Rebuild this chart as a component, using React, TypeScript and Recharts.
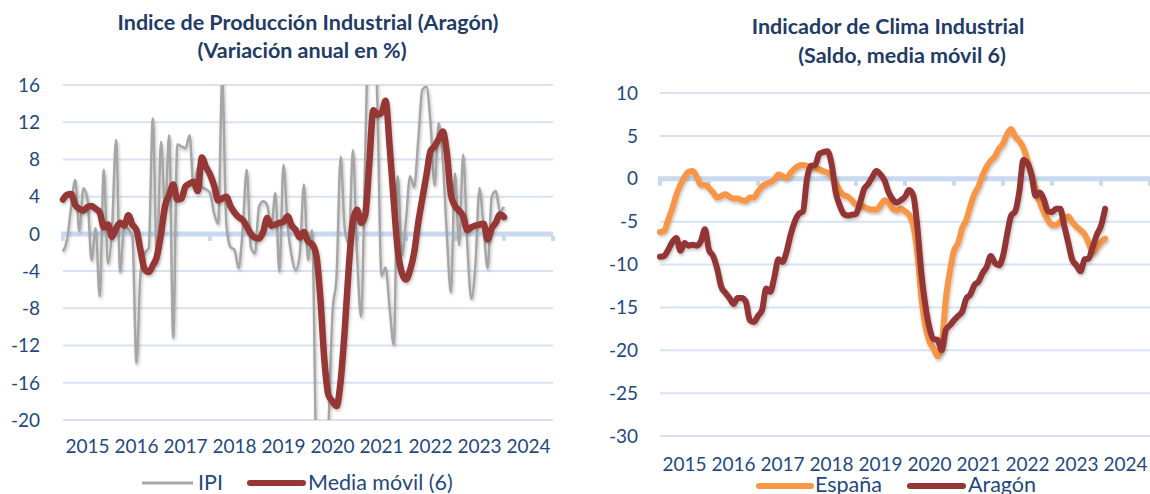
import { LineChart, Line, XAxis, YAxis, CartesianGrid, ReferenceLine } from "recharts"

// monthly values, Jan 2015 onward
const years = [2015, 2016, 2017, 2018, 2019, 2020, 2021, 2022, 2023, 2024]

const ipi = [
  -1.9, -0.6, 2.9, 5.8, 0.3, 4.9, 3.7, -2.8, 0.6, -6.7,
  6.9, -3.2, 0.4, 10.1, -4.1, 0.8, 0.5, -0.3, -13.9, -4.2,
  -2.1, -1.5, 12.4, -3.2, 9.9, 2.6, 10.6, -11.2, 9.6, 9.4,
  9.2, 10.6, 4.9, 7.1, 5.1, 4.8, 4.4, 2.2, 1.1, 16.5,
  1.1, -1.4, -1.7, -3.7, 0.4, 6.9, -1.4, -2.1, 2.9, 3.5,
  3.1, 0.6, 4.4, -4.1, 7.4, 1.0, -2.4, -3.9, -2.1, 5.3,
  -2.8, 0.4, -24, -36, -30, -21, -8.5, -4.5, 8.3, 0.5,
  -1.0, 9.0, -2.0, -8.9, 8, 25, 26, 14, -4.5, -3.6,
  -8.0, -11.9, 6.2, -2.3, 1.5, 6.2, 5.0, 10.0, 15.5, 15.8,
  12.0, 5.2, 11.9, 8.0, 0.0, -6.3, 6.5, -1.2, 8.5, -1.0,
  -7.0, -3.3, 4.9, 0.6, -3.7, 4.0, 4.6, 2.4, 2.9,
]

const mediaMovil = [
  3.7, 4.2, 4.3, 3.1, 2.7, 2.5, 2.9, 3.0, 2.7, 2.3,
  0.7, 1.0, -0.3, 0.6, 1.2, 0.9, 2.0, 1.0, 0.4, -1.8,
  -3.8, -4.1, -3.4, -2.4, 0.0, 3.0, 4.2, 5.3, 3.7, 3.8,
  5.1, 5.4, 5.6, 4.6, 8.2, 7.2, 6.4, 5.2, 3.6, 3.8,
  4.0, 3.0, 2.3, 1.8, 1.5, 0.8, 0.0, -0.4, -0.5, 0.2,
  1.7, 0.9, 1.0, 1.2, 1.3, 1.9, 0.9, 0.4, -0.4, 0.2,
  -0.8, -1.1, -2.2, -6.7, -13.5, -17.3, -18.0, -18.5, -15.8, -10.3,
  -3.5, 1.4, 2.6, 1.2, 2.0, 7.5, 13.3, 12.8, 13.0, 14.3,
  9.4, 3.5, -1.8, -4.2, -4.9, -3.9, -2.0, 1.2, 3.8, 6.3,
  8.9, 9.4, 10.2, 11.0, 8.7, 4.2, 3.0, 2.5, 1.9, 0.4,
  0.7, 0.9, 1.0, 1.1, -0.6, 0.6, 1.2, 2.1, 1.8,
]

const espana = [
  -6.2, -6.1, -4.8, -3.5, -1.9, -0.7, 0.2, 0.8, 0.9, 0.2,
  -0.7, -0.7, -1.1, -1.6, -2.2, -2.0, -1.8, -2.1, -2.3, -2.3,
  -2.5, -2.6, -2.2, -2.2, -1.5, -0.9, -0.6, -0.4, -0.1, 0.5,
  0.3, 0.1, 0.7, 1.2, 1.5, 1.6, 1.5, 1.4, 1.3, 1.1,
  0.9, 0.7, 0.3, -0.4, -1.4, -1.9, -2.1, -2.5, -3.0, -3.0,
  -3.3, -3.5, -3.6, -3.6, -3.1, -2.5, -2.8, -3.5, -3.7, -3.5,
  -3.8, -4.2, -5.4, -8.6, -13.8, -17.2, -19.0, -19.8, -20.7, -19.2,
  -14.0, -10.8, -8.4, -7.5, -5.8, -4.8, -3.2, -1.8, -0.9, 0.4,
  1.4, 2.1, 2.6, 3.5, 4.1, 5.2, 5.8, 4.9, 4.4, 3.6,
  2.1, 0.4, -1.2, -2.7, -3.9, -4.8, -5.4, -5.4, -5.0, -4.6,
  -4.4, -5.1, -5.6, -6.0, -6.5, -7.5, -8.6, -8.0, -7.4, -7.0,
]

const aragon = [
  -9.1, -9.0, -8.3, -7.4, -6.9, -8.4, -7.5, -7.8, -7.7, -7.8,
  -7.3, -5.9, -8.3, -9.0, -10.5, -12.6, -13.3, -13.9, -14.6, -13.9,
  -13.9, -14.3, -16.5, -16.7, -16.0, -15.3, -12.8, -13.2, -11.5, -9.4,
  -9.7, -8.5, -6.5, -5.0, -4.1, -3.8, 0.0, 1.5, 1.6, 2.9,
  3.1, 3.2, 1.8, -1.5, -3.1, -4.1, -4.3, -4.2, -4.1, -2.8,
  -1.2, -0.6, 0.2, 0.9, 0.5, -0.2, -1.6, -2.4, -2.8, -2.5,
  -2.1, -1.3, -1.9, -5.5, -11.0, -14.8, -17.4, -18.7, -18.8, -20.0,
  -17.6, -17.1, -16.5, -16.0, -15.5, -14.0, -13.5, -12.4, -12.0, -11.0,
  -10.3, -9.0, -9.8, -10.1, -9.0, -6.5, -4.3, -3.8, -1.5, 2.2,
  1.8, 0.4, -2.0, -1.6, -2.4, -3.8, -3.9, -3.5, -3.5, -5.5,
  -7.5, -9.5, -10.1, -10.8, -9.4, -9.3, -7.9, -6.5, -5.5, -3.5,
]

const ipiTicks = [-20, -16, -12, -8, -4, 0, 4, 8, 12, 16]
const climaTicks = [-30, -25, -20, -15, -10, -5, 0, 5, 10]

const ipiData = ipi.map((v, i) => ({ m: i, ipi: v, media: mediaMovil[i] }))
const climaData = espana.map((v, i) => ({ m: i, espana: v, aragon: aragon[i] }))

const yearTicks = years.map((_, i) => i * 12 + 6)
const yearLabel = (v: number) => String(years[Math.floor(v / 12)])

const FONT = "Lato, 'Open Sans', sans-serif"
const NAVY = "#1F497D"
const TITLE = "#1F3B66"
const GRID = "#D7E3F3"
const BAND = "#C9DAF0"

// the value axis is drawn at 0 as a thick band with year tick marks
const ZeroAxis = (props: any) => {
  const { x1, x2, y1 } = props
  const step = (x2 - x1) / years.length
  return (
    <g>
      <line x1={x1 - 2} x2={x2} y1={y1} y2={y1} stroke={BAND} strokeWidth={5} />
      {years.concat([0]).map((_, i) => (
        <rect key={i} x={x1 + i * step - 2} y={y1 + 2} width={4} height={5} fill={BAND} />
      ))}
    </g>
  )
}

const tickStyle = { fill: NAVY, fontSize: 19, fontFamily: FONT }

export default function App() {
  return (
    <div style={{ position: "absolute", left: 0, top: 0, width: 1150, height: 494, background: "#fff", overflow: "hidden" }}>
      <svg width={0} height={0} style={{ position: "absolute" }}>
        <defs>
          <filter id="soft" x="-5%" y="-5%" width="110%" height="115%">
            <feDropShadow dx={1} dy={2} stdDeviation={1.5} floodColor="#000" floodOpacity={0.25} />
          </filter>
        </defs>
      </svg>

      <div style={{ position: "absolute", left: 0, top: 0 }}>
        <LineChart width={575} height={494} data={ipiData} margin={{ top: 85, right: 22, bottom: 44, left: 0 }}>
          <CartesianGrid vertical={false} stroke={GRID} strokeWidth={2} />
          <XAxis
            dataKey="m"
            type="number"
            domain={[0, 120]}
            ticks={yearTicks}
            tickFormatter={yearLabel}
            axisLine={false}
            tickLine={false}
            tickMargin={14}
            tick={tickStyle}
            interval={0}
          />
          <YAxis
            width={63}
            domain={[-20, 16]}
            ticks={ipiTicks}
            allowDataOverflow
            axisLine={false}
            tickLine={false}
            tickMargin={17}
            tick={tickStyle}
            interval={0}
          />
          <ReferenceLine y={0} shape={ZeroAxis} />
          <Line dataKey="ipi" type="monotone" stroke="#A6A6A6" strokeWidth={2.5} dot={false} filter="url(#soft)" isAnimationActive={false} />
          <Line dataKey="media" type="monotone" stroke="#953735" strokeWidth={6.5} dot={false} strokeLinecap="round" strokeLinejoin="round" filter="url(#soft)" isAnimationActive={false} />
        </LineChart>
      </div>

      <div style={{ position: "absolute", left: 575, top: 0 }}>
        <LineChart width={575} height={494} data={climaData} margin={{ top: 93, right: 0, bottom: 28, left: 0 }}>
          <CartesianGrid vertical={false} stroke={GRID} strokeWidth={2} />
          <XAxis
            dataKey="m"
            type="number"
            domain={[0, 120]}
            ticks={yearTicks}
            tickFormatter={yearLabel}
            axisLine={false}
            tickLine={false}
            tickMargin={16}
            tick={tickStyle}
            interval={0}
          />
          <YAxis
            width={85}
            domain={[-30, 10]}
            ticks={climaTicks}
            axisLine={false}
            tickLine={false}
            tickMargin={16}
            tick={tickStyle}
            interval={0}
          />
          <ReferenceLine y={0} shape={ZeroAxis} />
          <Line dataKey="espana" type="monotone" stroke="#F79646" strokeWidth={6} dot={false} strokeLinecap="round" strokeLinejoin="round" filter="url(#soft)" isAnimationActive={false} />
          <Line dataKey="aragon" type="monotone" stroke="#943634" strokeWidth={6} dot={false} strokeLinecap="round" strokeLinejoin="round" filter="url(#soft)" isAnimationActive={false} />
        </LineChart>
      </div>

      <svg width={1150} height={494} style={{ position: "absolute", left: 0, top: 0, pointerEvents: "none" }}>
        <g fontFamily={FONT} fontWeight="bold" fontSize={21.5} fill={TITLE} textAnchor="middle">
          <text x={308} y={30}>Indice de Producción Industrial (Aragón)</text>
          <text x={302} y={58}>(Variación anual en %)</text>
          <text x={888} y={34}>Indicador de Clima Industrial</text>
          <text x={902} y={63}>(Saldo, media móvil 6)</text>
        </g>
        <g fontFamily={FONT} fontSize={21.5} fill={NAVY}>
          <line x1={142} x2={193} y1={483} y2={483} stroke="#A6A6A6" strokeWidth={3} />
          <text x={198} y={490}>IPI</text>
          <line x1={250} x2={303} y1={483} y2={483} stroke="#953735" strokeWidth={6} strokeLinecap="round" />
          <text x={308} y={490}>Media móvil (6)</text>
          <line x1={759} x2={811} y1={486} y2={486} stroke="#F79646" strokeWidth={6} strokeLinecap="round" />
          <text x={815} y={492}>España</text>
          <line x1={910} x2={963} y1={486} y2={486} stroke="#943634" strokeWidth={6} strokeLinecap="round" />
          <text x={968} y={492}>Aragón</text>
        </g>
      </svg>
    </div>
  )
}
